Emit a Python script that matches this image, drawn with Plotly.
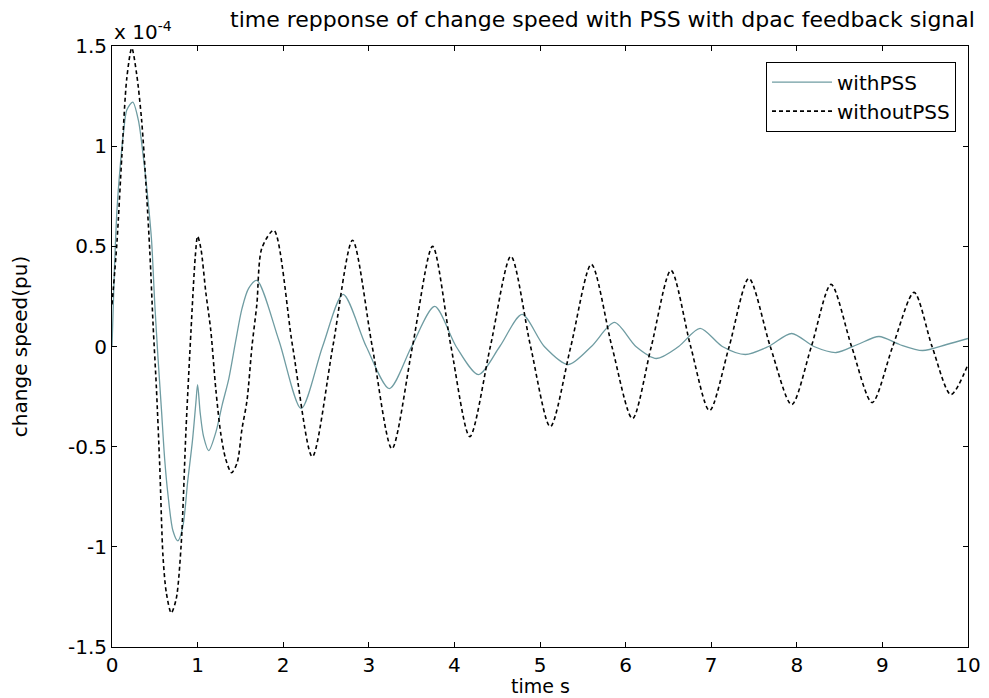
import plotly.graph_objects as go

# time response values (units of 1e-4 pu)
t_with = [0.0, 0.027, 0.058, 0.096, 0.135, 0.173, 0.242, 0.308, 0.365, 0.423, 0.462,
          0.50, 0.538, 0.577, 0.615, 0.654, 0.712, 0.769, 0.827, 0.885, 0.94, 0.98,
          1.0, 1.03, 1.07, 1.13, 1.212, 1.288, 1.365, 1.442, 1.519, 1.596, 1.692,
          1.95, 2.21, 2.46, 2.70, 2.97, 3.24, 3.50, 3.77, 4.02, 4.28, 4.53, 4.79,
          5.05, 5.33, 5.60, 5.87, 6.12, 6.36, 6.62, 6.87, 7.13, 7.40, 7.67, 7.94,
          8.20, 8.46, 8.71, 8.96, 9.20, 9.47, 9.75, 10.0]
y_with = [0.0, 0.37, 0.68, 0.90, 1.07, 1.18, 1.22, 1.13, 0.95, 0.72, 0.53,
          0.21, -0.06, -0.31, -0.56, -0.74, -0.92, -0.97, -0.90, -0.67, -0.47, -0.28,
          -0.19, -0.33, -0.45, -0.52, -0.43, -0.29, -0.16, 0.02, 0.19, 0.29, 0.33,
          0.03, -0.31, 0.0, 0.26, 0.0, -0.21, 0.0, 0.20, 0.0, -0.14, 0.0, 0.16,
          0.0, -0.09, 0.0, 0.12, 0.0, -0.06, 0.0, 0.09, 0.0, -0.04, 0.0, 0.065,
          0.0, -0.03, 0.01, 0.05, 0.01, -0.02, 0.01, 0.04]

t_without = [0.0, 0.058, 0.115, 0.173, 0.231, 0.288, 0.346, 0.404, 0.442, 0.481,
             0.519, 0.558, 0.596, 0.635, 0.692, 0.75, 0.808, 0.865, 0.923, 0.973,
             1.0, 1.038, 1.096, 1.154, 1.212, 1.269, 1.327, 1.396, 1.462, 1.519,
             1.577, 1.635, 1.692, 1.75, 1.89, 2.11, 2.34, 2.58, 2.81, 3.04, 3.27,
             3.51, 3.745, 3.96, 4.18, 4.42, 4.66, 4.89, 5.12, 5.36, 5.60, 5.84,
             6.08, 6.30, 6.53, 6.76, 6.98, 7.21, 7.44, 7.69, 7.94, 8.17, 8.40,
             8.64, 8.88, 9.12, 9.37, 9.58, 9.80, 10.0]
y_without = [0.21, 0.52, 0.95, 1.34, 1.49, 1.36, 1.13, 0.76, 0.47, 0.10,
             -0.21, -0.60, -1.05, -1.23, -1.33, -1.26, -0.99, -0.41, 0.08, 0.45,
             0.55, 0.49, 0.27, 0.08, -0.21, -0.43, -0.56, -0.63, -0.58, -0.41,
             -0.27, 0.0, 0.21, 0.49, 0.58, 0.0, -0.55, 0.0, 0.53, 0.0, -0.51,
             0.0, 0.50, 0.0, -0.45, 0.0, 0.45, 0.0, -0.40, 0.0, 0.41, 0.0,
             -0.36, 0.0, 0.38, 0.0, -0.32, 0.0, 0.34, 0.0, -0.29, 0.0, 0.31,
             0.0, -0.28, 0.0, 0.27, 0.0, -0.24, -0.09]

x_ticks = list(range(0, 11))
y_ticks = [-1.5, -1, -0.5, 0, 0.5, 1, 1.5]
y_tick_text = ["-1.5", "-1", "-0.5", "0", "0.5", "1", "1.5"]

FONT = "DejaVu Sans"
SIZE = 20

fig = go.Figure()
fig.add_trace(go.Scatter(x=t_with, y=y_with, mode="lines", name="withPSS",
                         line=dict(color="#6f9ca2", width=1.3, shape="spline", smoothing=0.8)))
fig.add_trace(go.Scatter(x=t_without, y=y_without, mode="lines", name="withoutPSS",
                         line=dict(color="black", width=1.6, dash="4px,3px",
                                   shape="spline", smoothing=0.8)))

axis_common = dict(showgrid=False, zeroline=False, showline=True, linecolor="black",
                   linewidth=1, mirror="ticks", ticks="inside", ticklen=5,
                   tickcolor="black", tickfont=dict(family=FONT, size=SIZE, color="black"))

fig.update_xaxes(range=[0, 10], tickvals=x_ticks, **axis_common)
fig.update_yaxes(range=[-1.5, 1.5], tickvals=y_ticks, ticktext=y_tick_text, **axis_common,
                 title=dict(text="change speed(pu)", font=dict(family=FONT, size=SIZE, color="black"),
                            standoff=34))

# x label, exponent and title as text placed around the axes box
fig.add_annotation(text="time s", xref="paper", yref="paper", x=0.5, y=0,
                   xanchor="center", yanchor="top", yshift=-26, showarrow=False,
                   font=dict(family=FONT, size=19, color="black"))
fig.add_annotation(text="x 10<sup>-4</sup>", xref="paper", yref="paper", x=0, y=1,
                   xanchor="left", yanchor="bottom", showarrow=False,
                   font=dict(family=FONT, size=SIZE, color="black"))
fig.add_annotation(text="time repponse of change speed with PSS with dpac feedback signal",
                   xref="paper", yref="paper", x=1.01, y=1, yshift=12,
                   xanchor="right", yanchor="bottom", showarrow=False,
                   font=dict(family=FONT, size=22, color="black"))

# page body adds an 8px offset, so the figure is sized to fit the window
fig.update_layout(
    width=985, height=690,
    margin=dict(l=98, r=19, t=38, b=51),
    paper_bgcolor="white", plot_bgcolor="white",
    legend=dict(x=0.986, y=0.974, xanchor="right", yanchor="top",
                bordercolor="black", borderwidth=1, bgcolor="white",
                tracegroupgap=0, itemwidth=60,
                font=dict(family=FONT, size=SIZE, color="black")),
)

fig.write_html("out.html")
